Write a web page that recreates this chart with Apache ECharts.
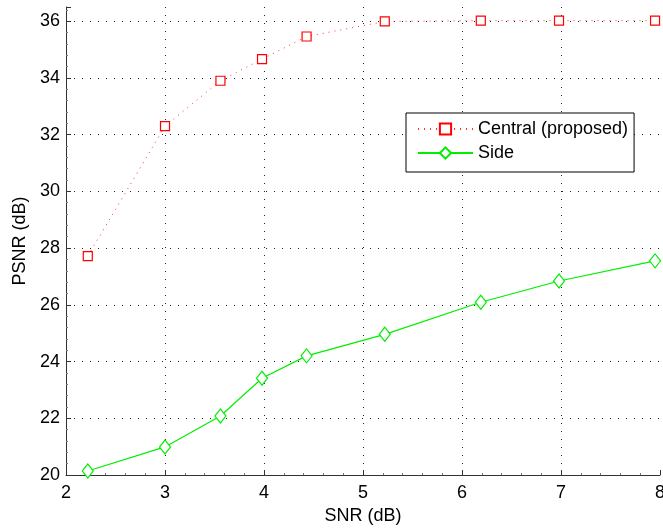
<!DOCTYPE html>
<html>
<head>
<meta charset="utf-8">
<script src="https://cdn.jsdelivr.net/npm/echarts@6/dist/echarts.min.js"></script>
<style>html,body{margin:0;padding:0;background:#fff;}#c{width:663px;height:528px;}</style>
</head>
<body>
<div id="c"></div>
<script>
var snr = [2.22, 3.0, 3.56, 3.98, 4.43, 5.22, 6.19, 6.98, 7.95];
var centralPsnr = [27.72, 32.3, 33.9, 34.66, 35.46, 35.99, 36.02, 36.02, 36.02];
var sidePsnr = [20.14, 20.99, 22.08, 23.41, 24.2, 24.96, 26.09, 26.84, 27.55];
var seriesNames = ['Central (proposed)', 'Side'];

function pairs(xs, ys) { return xs.map(function (x, i) { return [x, ys[i]]; }); }

var font = 'Liberation Sans, Arial, Helvetica, sans-serif';
var chart = echarts.init(document.getElementById('c'), null, {renderer: 'canvas'});
var gridDots = {show: true, showMinLine: false, showMaxLine: false,
  lineStyle: {color: '#222', width: 1, type: [1, 7]}};
chart.setOption({
  animation: false,
  backgroundColor: '#fff',
  grid: {left: 66, right: 3, top: 7, bottom: 53, containLabel: false, outerBoundsMode: 'none'},
  xAxis: {
    type: 'value', min: 2, max: 8, interval: 1,
    name: 'SNR (dB)', nameLocation: 'middle', nameGap: 32,
    nameTextStyle: {fontFamily: font, fontSize: 18, color: '#000'},
    axisLine: {show: true, onZero: false, lineStyle: {color: '#333', width: 1}},
    axisTick: {show: true, inside: true, length: 5, lineStyle: {color: '#333'}},
    minorTick: {show: true, splitNumber: 5, length: 2, lineStyle: {color: '#777'}},
    axisLabel: {fontFamily: font, fontSize: 18, color: '#000', margin: 9},
    splitLine: gridDots
  },
  yAxis: {
    type: 'value', min: 20, max: 36.5, interval: 2,
    name: 'PSNR (dB)', nameLocation: 'middle', nameGap: 35, nameRotate: 90,
    nameTextStyle: {fontFamily: font, fontSize: 18, color: '#000'},
    axisLine: {show: true, onZero: false, lineStyle: {color: '#333', width: 1}},
    axisTick: {show: true, inside: true, length: 5, lineStyle: {color: '#333'}},
    minorTick: {show: true, splitNumber: 5, length: 2, lineStyle: {color: '#777'}},
    axisLabel: {fontFamily: font, fontSize: 18, color: '#000', margin: 6, showMaxLabel: false},
    splitLine: gridDots
  },
  legend: {
    left: 406, top: 113, orient: 'vertical',
    backgroundColor: '#fff', borderColor: '#000', borderWidth: 1,
    padding: [7, 6, 10, 11], itemGap: 6, itemWidth: 55, itemHeight: 14,
    textStyle: {fontFamily: font, fontSize: 18, color: '#000'},
    data: seriesNames
  },
  series: [
    {
      name: seriesNames[0], type: 'line', data: pairs(snr, centralPsnr),
      symbol: 'rect', symbolSize: 9, showAllSymbol: true,
      lineStyle: {color: '#ff3333', width: 1, type: [1, 5]},
      itemStyle: {color: '#fff', borderColor: '#ff0000', borderWidth: 1.2},
      z: 3
    },
    {
      name: seriesNames[1], type: 'line', data: pairs(snr, sidePsnr),
      symbol: 'diamond', symbolSize: [11, 14], showAllSymbol: true,
      lineStyle: {color: '#00ee00', width: 1.2, type: 'solid'},
      itemStyle: {color: '#fff', borderColor: '#00ee00', borderWidth: 1.2},
      z: 3
    }
  ]
});
</script>
</body>
</html>
